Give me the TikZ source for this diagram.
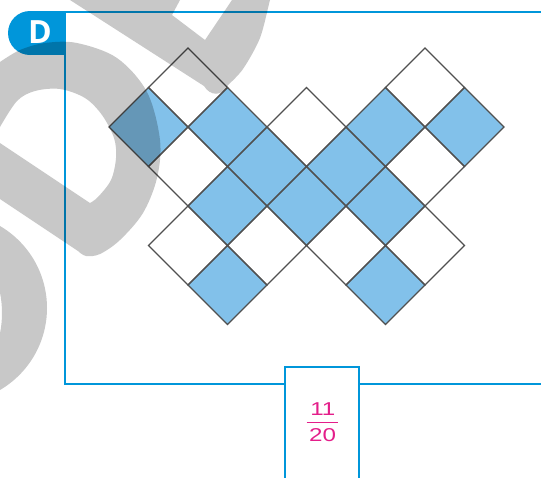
\documentclass[tikz,border=0pt]{standalone}
\usepackage{graphicx}
\usepackage{fontspec}
\newfontfamily\badgefont{Open Sans}
\newfontfamily\fracfont{Liberation Sans}
\definecolor{frameblue}{RGB}{0,150,218}
\definecolor{cellblue}{RGB}{130,193,234}
\definecolor{gridgray}{RGB}{80,80,80}
\definecolor{fracpink}{RGB}{228,30,138}
\begin{document}
\begin{tikzpicture}[x=1pt,y=-1pt,
  frameline/.style={draw=frameblue,line width=2.2pt},
  cellbox/.style={draw=gridgray,line width=1.2pt,line join=miter},
  wm/.style={fill=black,fill opacity=0.215},
  fractext/.style={text=fracpink,font=\fracfont\fontsize{18.6}{18.6}\selectfont,inner sep=0pt}]
\useasboundingbox (0,0) rectangle (541,477);
% frame
\draw[frameline] (541,12) -- (65,12) -- (65,384) -- (541,384);
% badge
\fill[frameblue] (30,33) circle[radius=22];
\fill[frameblue] (30,11) rectangle (65,55);
\node[text=white,font=\badgefont\bfseries\fontsize{32}{32}\selectfont,inner sep=0pt] (badge) at (40,32) {D};
% grid of diamonds
\begin{scope}[shift={(109,48)},x=39.5pt,y=-39.5pt]
  \foreach \i/\j in {1/2,3/2,4/3,3/4,3/6,5/4,6/3,7/4,7/6,7/2,9/2}
    \fill[cellblue] (\i-1,\j) -- (\i,\j-1) -- (\i+1,\j) -- (\i,\j+1) -- cycle;
  \foreach \i/\j in {1/2,3/2,4/3,3/4,3/6,5/4,6/3,7/4,7/6,7/2,9/2,2/1,2/3,2/5,4/5,5/2,6/5,8/5,8/3,8/1}
    \draw[cellbox] (\i-1,\j) -- (\i,\j-1) -- (\i+1,\j) -- (\i,\j+1) -- cycle;
\end{scope}
% answer box
\draw[frameline,fill=white] (285,367) rectangle (359,495);
\node[fractext] (num) at (322.8,409) {\scalebox{1.3}[1]{11}};
\node[fractext] (den) at (322.5,435) {\scalebox{1.3}[1]{20}};
\coordinate (barl) at (306.7,422.5);
\coordinate (barr) at (338.3,422.5);
\draw[fracpink,line width=1.3pt] (barl) -- (barr);
% watermark
\fill[wm,even odd rule] (-48,308) circle[radius=95] (-60,313) ellipse[x radius=62,y radius=80];
\fill[wm,even odd rule] (-20,70) -- plot[smooth,tension=0.55] coordinates {(0,62) (20,50) (45,43) (77,43) (117,58) (147,92) (160,140) (157,178) (143,213) (120,240) (100,254) (86,256) (78,251)} -- (0,199) -- (-20,186) -- cycle
  (-20,125) -- plot[smooth,tension=0.55] coordinates {(0,127) (17,101) (35,91) (60,89) (85,98) (102,115) (114,138) (116,158) (111,180) (98,197) (90,203)} -- (0,143) -- (-20,135) -- cycle;
\fill[wm] (55,-8) -- (70,0) -- (204,86) .. controls (210,96) and (222,97) .. (228,85) -- plot[smooth] coordinates {(228,85) (243,69) (260,38) (270,0) (273,-8)} -- (234,-8) -- (232,0) -- (205,40) -- (172,15) -- (180,0) -- (182,-8) -- cycle;
\end{tikzpicture}
\end{document}
